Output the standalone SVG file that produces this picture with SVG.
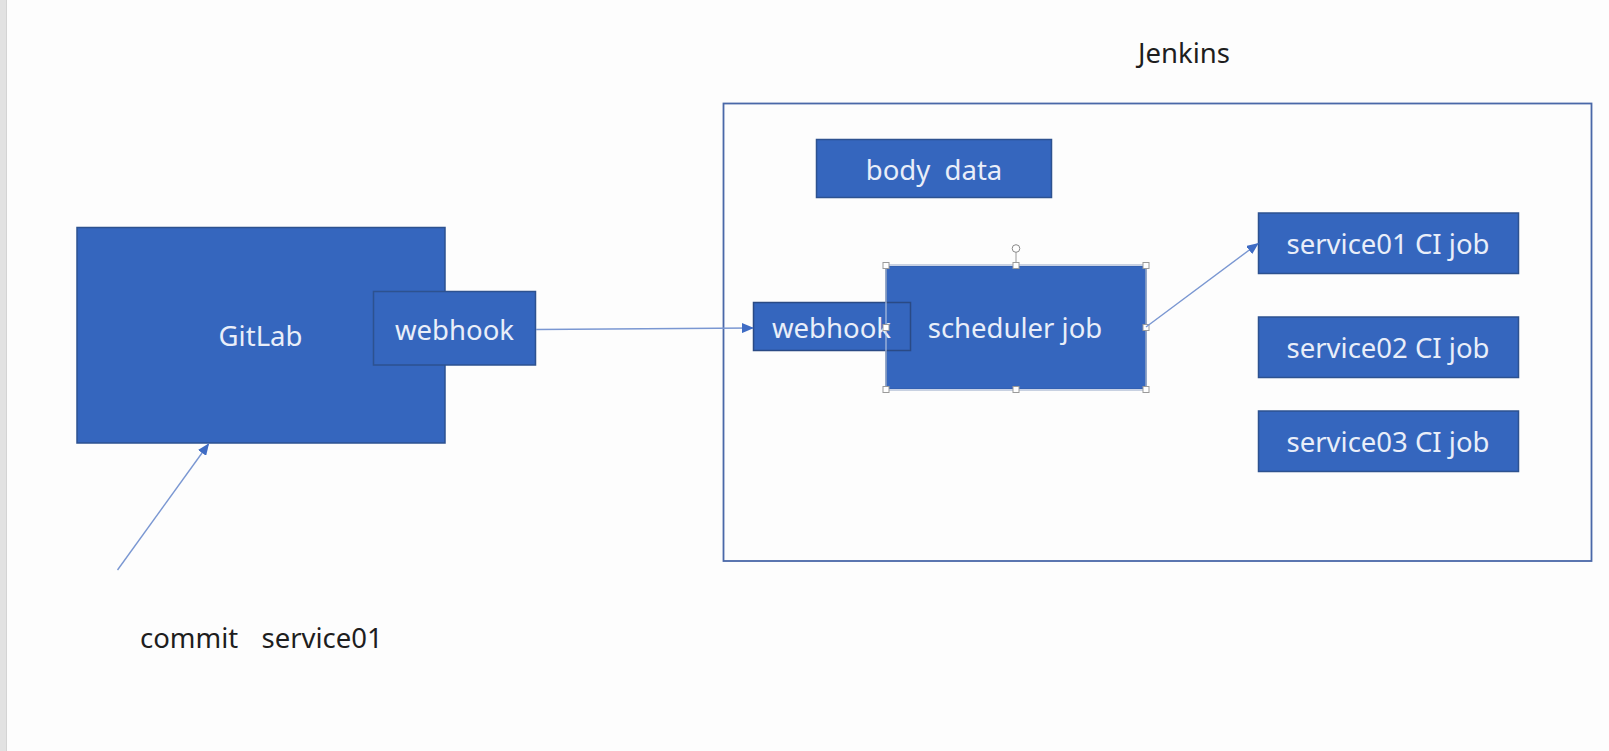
<svg xmlns="http://www.w3.org/2000/svg" width="1609" height="751" viewBox="0 0 1609 751">
<style>
.box{fill:#3566be;stroke:#2d5290;stroke-width:1.5}
.lbl{font-family:"Noto Sans","Liberation Sans",sans-serif;font-size:27.5px;fill:#e9eef9;text-anchor:middle}
.dark{font-family:"Noto Sans","Liberation Sans",sans-serif;font-size:27.5px;fill:#1e1e1e}
.conn{stroke:#7a97d2;stroke-width:1.4;fill:none}
.hdl{fill:#ffffff;stroke:#9a9a9a;stroke-width:1}
</style>
<defs>
<marker id="arr" viewBox="0 0 12 10" refX="11" refY="5" markerWidth="12" markerHeight="10" markerUnits="userSpaceOnUse" orient="auto">
<path d="M0,0 L12,5 L0,10 Z" fill="#3f6cc4"/>
</marker>
</defs>
<rect x="0" y="0" width="1609" height="751" fill="#fdfdfd"/>
<rect x="0" y="0" width="6" height="751" fill="#e2e2e2"/>
<rect x="6" y="0" width="1" height="751" fill="#d4d4d4"/>

<g id="jenkins-container">
<rect x="723.5" y="103.5" width="868" height="457.5" fill="none" stroke="#4a68a8" stroke-width="1.8"/>
<text class="dark" x="1184" y="62.5" text-anchor="middle">Jenkins</text>
</g>

<g id="gitlab">
<rect class="box" x="77" y="227.5" width="368" height="215.5"/>
<text class="lbl" x="260.5" y="346">GitLab</text>
</g>
<g id="gitlab-webhook">
<rect class="box" x="373.5" y="291.5" width="162" height="73.5" stroke="#243f73"/>
<text class="lbl" x="454.5" y="339.5">webhook</text>
</g>

<g id="body-data">
<rect class="box" x="816.5" y="139.5" width="235" height="58"/>
<text class="lbl" x="934" y="179.5" xml:space="preserve">body  data</text>
</g>

<g id="scheduler-job">
<rect class="box" x="886" y="265.5" width="260" height="124" stroke="#3566be"/>
<text class="lbl" x="1015" y="338">scheduler job</text>
</g>

<g id="jenkins-webhook">
<rect x="753.5" y="302.5" width="157" height="48" fill="#3566be" stroke="#2a4a85" stroke-width="1.5"/>
<text class="lbl" x="831.5" y="338">webhook</text>
</g>

<g id="selection">
<rect x="886" y="265.5" width="260" height="124" fill="none" stroke="#c8d2e6" stroke-width="1"/>
<line x1="1016" y1="252" x2="1016" y2="265.5" stroke="#9a9a9a" stroke-width="1"/>
<circle cx="1016" cy="248.5" r="3.8" fill="#ffffff" stroke="#8a8a8a" stroke-width="1"/>
<rect class="hdl" x="883" y="262.5" width="6" height="6"/>
<rect class="hdl" x="1013" y="262.5" width="6" height="6"/>
<rect class="hdl" x="1143" y="262.5" width="6" height="6"/>
<rect class="hdl" x="883" y="324.5" width="6" height="6"/>
<rect class="hdl" x="1143" y="324.5" width="6" height="6"/>
<rect class="hdl" x="883" y="386.5" width="6" height="6"/>
<rect class="hdl" x="1013" y="386.5" width="6" height="6"/>
<rect class="hdl" x="1143" y="386.5" width="6" height="6"/>
</g>

<g id="service01">
<rect class="box" x="1258.5" y="213" width="260" height="60.5"/>
<text class="lbl" x="1388" y="254">service01 CI job</text>
</g>
<g id="service02">
<rect class="box" x="1258.5" y="317" width="260" height="60.5"/>
<text class="lbl" x="1388" y="358">service02 CI job</text>
</g>
<g id="service03">
<rect class="box" x="1258.5" y="411" width="260" height="60.5"/>
<text class="lbl" x="1388" y="452">service03 CI job</text>
</g>

<g id="commit-label">
<text class="dark"><tspan x="140" y="647.5">commit</tspan><tspan x="261.5" y="647.5">service01</tspan></text>
</g>

<g id="connectors">
<line class="conn" x1="536" y1="329.5" x2="753" y2="328" marker-end="url(#arr)"/>
<line class="conn" x1="1146" y1="327" x2="1258" y2="243.5" marker-end="url(#arr)"/>
<line class="conn" x1="117.5" y1="570" x2="208.5" y2="444" marker-end="url(#arr)"/>
</g>
</svg>
